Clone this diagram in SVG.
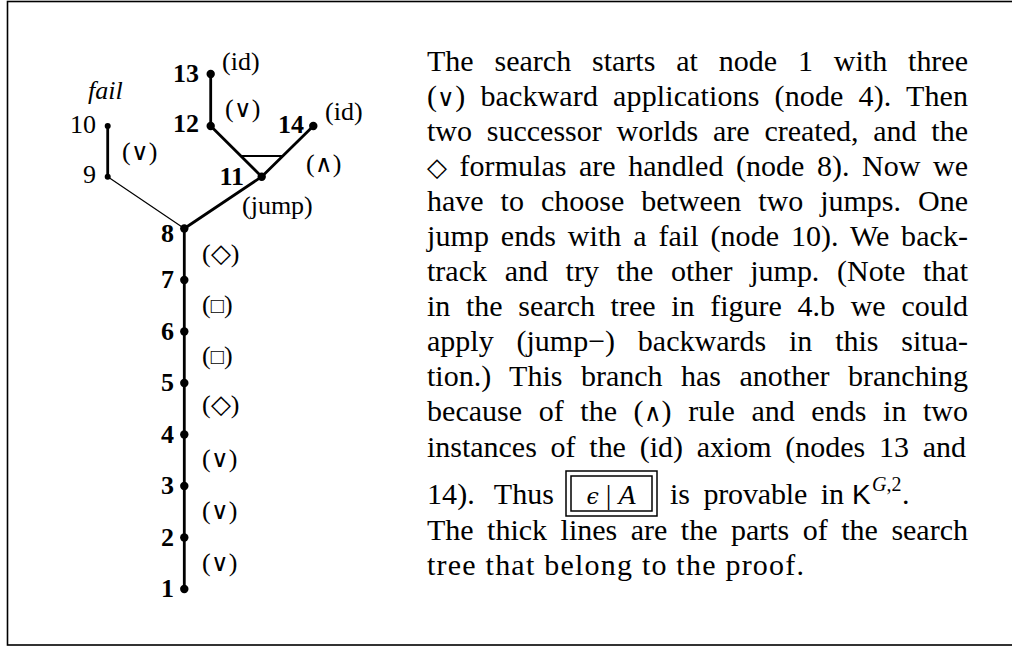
<svg xmlns="http://www.w3.org/2000/svg" width="1012" height="648" viewBox="0 0 1012 648">
  <style>
    .t { font-family: "Liberation Serif", "Times New Roman", serif; font-size: 26px; fill: #000; }
    .p { font-family: "Liberation Serif", "Times New Roman", serif; font-size: 30px; fill: #000; }
    .b { font-weight: bold; }
    .i { font-style: italic; }
    .or { font-family: "DejaVu Sans", sans-serif; font-size: 24px; font-style: normal; font-weight: 300; }
    .dia { font-family: "DejaVu Sans", sans-serif; font-size: 26px; font-style: normal; font-weight: 300; }
    .sq { font-family: "DejaVu Sans", sans-serif; font-size: 22px; font-style: normal; font-weight: 300; }
    .sf { font-family: "Liberation Sans", Arial, sans-serif; }
    .edge { stroke: #000; stroke-width: 2.8; fill: none; stroke-linecap: round; }
    .edge.thin { stroke-width: 1.2; }
    .edge.bar { stroke-width: 1.8; stroke-linecap: butt; }
    .dot { fill: #000; }
    .frame { fill: none; stroke: #000; stroke-width: 1.6; }
    .fbox { fill: none; stroke: #000; stroke-width: 1.5; }
  </style>

  <!-- outer frame (right side runs off the page) -->
  <rect class="frame" x="7.5" y="1.5" width="1020" height="643.5"/>

  <!-- search tree: connectors -->
  <g id="connectors">
    <line class="edge" x1="184.3" y1="589" x2="184.3" y2="228.5"/>
    <line class="edge thin" x1="184.3" y1="228.5" x2="107.7" y2="176.7"/>
    <line class="edge" x1="107.7" y1="176.7" x2="107.7" y2="126"/>
    <line class="edge" x1="184.3" y1="228.5" x2="261.7" y2="176.7"/>
    <line class="edge" x1="261.7" y1="176.7" x2="210.7" y2="126"/>
    <line class="edge" x1="261.7" y1="176.7" x2="313.3" y2="126"/>
    <line class="edge" x1="210.7" y1="126" x2="210.7" y2="74"/>
    <!-- bar marking the (∧) branching -->
    <line class="edge bar" x1="240.5" y1="156" x2="283" y2="156"/>
  </g>

  <!-- rule annotations -->
  <g id="rule-labels" class="t">
    <text x="202" y="571">(<tspan class="or">∨</tspan>)</text>
    <text x="202" y="519">(<tspan class="or">∨</tspan>)</text>
    <text x="202" y="467">(<tspan class="or">∨</tspan>)</text>
    <text x="202" y="413">(<tspan class="dia">◇</tspan>)</text>
    <text x="202" y="364">(<tspan class="sq">□</tspan>)</text>
    <text x="202" y="313">(<tspan class="sq">□</tspan>)</text>
    <text x="202" y="262">(<tspan class="dia">◇</tspan>)</text>
    <text x="122" y="160">(<tspan class="or">∨</tspan>)</text>
    <text x="242" y="214">(jump)</text>
    <text x="306" y="172">(<tspan class="or">∧</tspan>)</text>
    <text x="225" y="117">(<tspan class="or">∨</tspan>)</text>
    <text x="222" y="70">(id)</text>
    <text x="325" y="120">(id)</text>
    <text class="i" x="88" y="99">fail</text>
  </g>

  <!-- search tree: nodes -->
  <g id="node-1"><circle class="dot" cx="184.3" cy="589" r="4.2"/><text class="t b" x="174" y="597" text-anchor="end">1</text></g>
  <g id="node-2"><circle class="dot" cx="184.3" cy="537.5" r="4.2"/><text class="t b" x="174" y="545.5" text-anchor="end">2</text></g>
  <g id="node-3"><circle class="dot" cx="184.3" cy="486" r="4.2"/><text class="t b" x="174" y="494" text-anchor="end">3</text></g>
  <g id="node-4"><circle class="dot" cx="184.3" cy="434.5" r="4.2"/><text class="t b" x="174" y="442.5" text-anchor="end">4</text></g>
  <g id="node-5"><circle class="dot" cx="184.3" cy="383" r="4.2"/><text class="t b" x="174" y="391" text-anchor="end">5</text></g>
  <g id="node-6"><circle class="dot" cx="184.3" cy="331.5" r="4.2"/><text class="t b" x="174" y="339.5" text-anchor="end">6</text></g>
  <g id="node-7"><circle class="dot" cx="184.3" cy="280" r="4.2"/><text class="t b" x="174" y="288" text-anchor="end">7</text></g>
  <g id="node-8"><circle class="dot" cx="184.3" cy="228.5" r="4.2"/><text class="t b" x="174" y="242" text-anchor="end">8</text></g>
  <g id="node-9"><circle class="dot" cx="107.7" cy="176.7" r="3"/><text class="t" x="96" y="183" text-anchor="end">9</text></g>
  <g id="node-10"><circle class="dot" cx="107.7" cy="126" r="3"/><text class="t" x="96" y="133" text-anchor="end">10</text></g>
  <g id="node-11"><circle class="dot" cx="261.7" cy="176.7" r="4.2"/><text class="t b" x="244" y="185" text-anchor="end">11</text></g>
  <g id="node-12"><circle class="dot" cx="210.7" cy="126" r="4.2"/><text class="t b" x="199" y="132" text-anchor="end">12</text></g>
  <g id="node-13"><circle class="dot" cx="210.7" cy="74" r="4.2"/><text class="t b" x="199" y="82" text-anchor="end">13</text></g>
  <g id="node-14"><circle class="dot" cx="313.3" cy="126" r="4.2"/><text class="t b" x="304" y="133" text-anchor="end">14</text></g>

  <!-- explanatory paragraph, justified line by line -->
  <g id="caption" class="p">
    <text x="427" y="71" word-spacing="13.4" textLength="541" lengthAdjust="spacing">The search starts at node 1 with three</text>
    <text x="427" y="106" word-spacing="7.5" textLength="541" lengthAdjust="spacing">(<tspan class="or" font-size="25">∨</tspan>) backward applications (node 4). Then</text>
    <text x="427" y="141" word-spacing="7.3" textLength="541" lengthAdjust="spacing">two successor worlds are created, and the</text>
    <text x="427" y="176" word-spacing="5" textLength="541" lengthAdjust="spacing"><tspan class="dia">◇</tspan> formulas are handled (node 8). Now we</text>
    <text x="427" y="211" word-spacing="9.5" textLength="541" lengthAdjust="spacing">have to choose between two jumps. One</text>
    <text x="427" y="246" word-spacing="4.2" textLength="541" lengthAdjust="spacing">jump ends with a fail (node 10). We back-</text>
    <text x="427" y="281" word-spacing="10.2" textLength="541" lengthAdjust="spacing">track and try the other jump. (Note that</text>
    <text x="427" y="316" word-spacing="8.2" textLength="541" lengthAdjust="spacing">in the search tree in figure 4.b we could</text>
    <text x="427" y="351" word-spacing="15.3" textLength="541" lengthAdjust="spacing">apply (jump−) backwards in this situa-</text>
    <text x="427" y="386" word-spacing="10.9" textLength="541" lengthAdjust="spacing">tion.) This branch has another branching</text>
    <text x="427" y="421" word-spacing="9" textLength="541" lengthAdjust="spacing">because of the (<tspan class="or" font-size="25">∧</tspan>) rule and ends in two</text>
    <text x="427" y="457" word-spacing="6.3" textLength="539" lengthAdjust="spacing">instances of the (id) axiom (nodes 13 and</text>
    <text x="427" y="504" word-spacing="12" textLength="127" lengthAdjust="spacing">14). Thus</text>
    <rect class="fbox" x="566" y="471" width="91" height="45"/>
    <rect class="fbox" x="571" y="476" width="81" height="35"/>
    <text x="611" y="504" font-size="28" text-anchor="middle"><tspan font-family="DejaVu Serif" font-size="22" font-style="italic">ϵ</tspan> | <tspan class="i">A</tspan></text>
    <text x="670" y="504" word-spacing="6.3" textLength="174" lengthAdjust="spacing">is provable in</text>
    <text class="sf" x="852" y="504" font-size="28">K</text>
    <text x="872" y="491" font-size="20"><tspan class="i">G</tspan>,2</text>
    <text x="902" y="504">.</text>
    <text x="427" y="540" word-spacing="6" textLength="541" lengthAdjust="spacing">The thick lines are the parts of the search</text>
    <text x="427" y="575" textLength="377" lengthAdjust="spacing">tree that belong to the proof.</text>
  </g>
</svg>
